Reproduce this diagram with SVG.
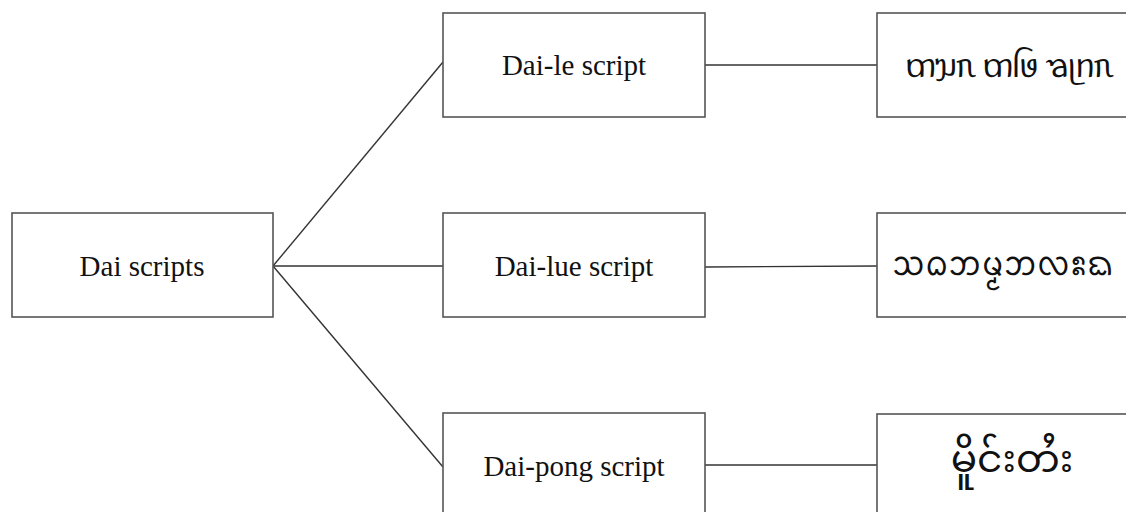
<svg xmlns="http://www.w3.org/2000/svg" width="1126" height="512" viewBox="0 0 1126 512">
<style>
.box{fill:#fff;stroke:#555;stroke-width:1.6}
.lbl{font-family:"Liberation Serif","Times New Roman",serif;font-size:29px;fill:#111;text-anchor:middle}
.scr{font-family:"Noto Sans Tai Le","Noto Sans Tai Tham","Noto Sans Myanmar","Noto Sans",sans-serif;fill:#111;text-anchor:middle}
.edge{stroke:#333;stroke-width:1.4;fill:none}
</style>
<rect width="1126" height="512" fill="#fff"/>
<g id="connectors">
<line class="edge" x1="273" y1="266" x2="443" y2="62"/>
<line class="edge" x1="273" y1="266" x2="443" y2="266"/>
<line class="edge" x1="273" y1="266" x2="443" y2="467"/>
<line class="edge" x1="705" y1="65" x2="877" y2="65"/>
<line class="edge" x1="705" y1="267" x2="877" y2="266"/>
<line class="edge" x1="705" y1="465" x2="877" y2="465"/>
</g>
<g id="dai-scripts">
<rect class="box" x="12" y="213" width="261" height="104"/>
<text class="lbl" x="142" y="276">Dai scripts</text>
</g>
<g id="dai-le">
<rect class="box" x="443" y="13" width="262" height="104"/>
<text class="lbl" x="574" y="75">Dai-le script</text>
</g>
<g id="dai-lue">
<rect class="box" x="443" y="213" width="262" height="104"/>
<text class="lbl" x="574" y="276">Dai-lue script</text>
</g>
<g id="dai-pong">
<rect class="box" x="443" y="413" width="262" height="110"/>
<text class="lbl" x="574" y="476">Dai-pong script</text>
</g>
<g id="tai-le-name">
<rect class="box" x="877" y="13" width="262" height="104"/>
<text class="scr" x="1009" y="77" font-size="33">ᥖᥭᥰ ᥖᥬᥳ ᥑᥨᥒᥰ</text>
</g>
<g id="tai-lue-name">
<rect class="box" x="877" y="213" width="262" height="104"/>
<text class="scr" x="1003" y="275" font-size="34">ᩈᨵᨽᨾ᩠ᨾᨽᩃᩡᨳ</text>
</g>
<g id="tai-pong-name">
<rect class="box" x="877" y="414" width="262" height="110"/>
<text class="scr" x="1012" y="472" font-size="39">မိူင်းတႆး</text>
</g>
</svg>
